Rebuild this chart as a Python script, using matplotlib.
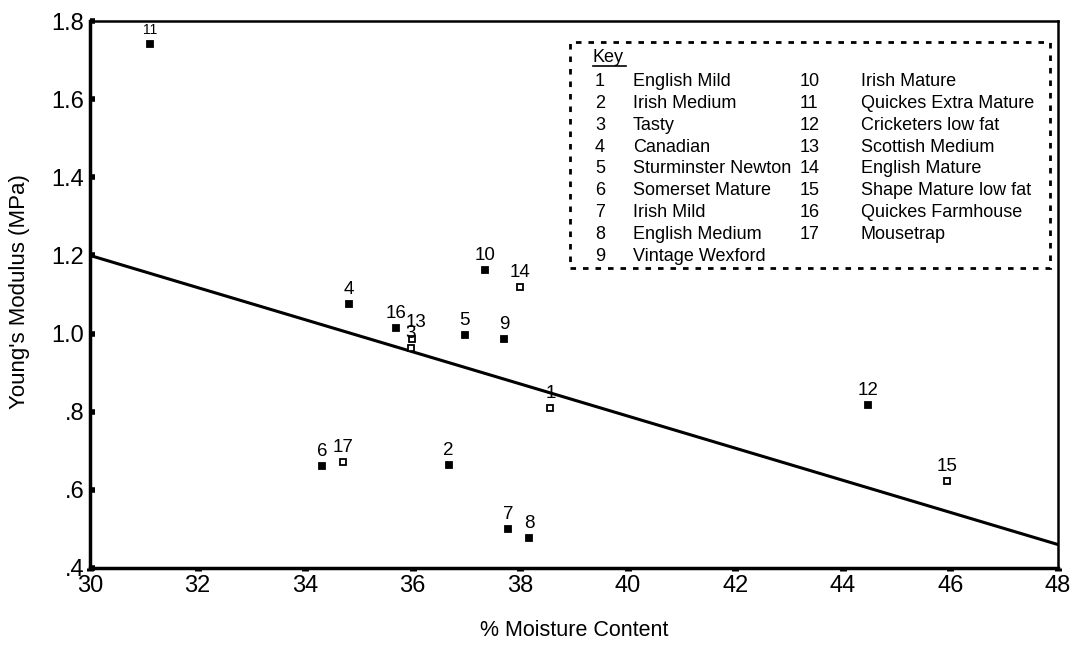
import matplotlib
matplotlib.use("Agg")
import matplotlib.pyplot as plt

plt.rcParams['font.family'] = ['Liberation Sans', 'DejaVu Sans']

# cheese number, moisture %, Young's modulus (MPa)
ids = [1, 2, 3, 4, 5, 6, 7, 8, 9, 10, 11, 12, 13, 14, 15, 16, 17]
moisture = [38.56, 36.67, 35.96, 34.81, 36.97, 34.32, 37.77, 38.17, 37.70,
            37.34, 31.12, 44.47, 35.99, 37.99, 45.94, 35.69, 34.71]
modulus = [0.810, 0.664, 0.964, 1.076, 0.996, 0.662, 0.500, 0.478, 0.987,
           1.163, 1.741, 0.818, 0.986, 1.119, 0.623, 1.015, 0.672]
hollow = [1, 3, 13, 14, 15, 17]

names = ["English Mild", "Irish Medium", "Tasty", "Canadian", "Sturminster Newton",
         "Somerset Mature", "Irish Mild", "English Medium", "Vintage Wexford",
         "Irish Mature", "Quickes Extra Mature", "Cricketers low fat",
         "Scottish Medium", "English Mature", "Shape Mature low fat",
         "Quickes Farmhouse", "Mousetrap"]

# regression line
fit_x = [30, 48]
fit_y = [1.20, 0.46]

xticks = [30, 32, 34, 36, 38, 40, 42, 44, 46, 48]
yticks = [0.4, 0.6, 0.8, 1.0, 1.2, 1.4, 1.6, 1.8]
ytick_labels = [".4", ".6", ".8", "1.0", "1.2", "1.4", "1.6", "1.8"]

W, H = 1078, 654
fig = plt.figure(figsize=(W / 100, H / 100), dpi=100)
ax = fig.add_axes([90 / W, 1 - 568 / H, (1058 - 90) / W, (568 - 21) / H])

ax.plot(fit_x, fit_y, color='black', lw=2.2, zorder=2)

for i, x, y in zip(ids, moisture, modulus):
    face = 'white' if i in hollow else 'black'
    ax.plot(x, y, marker='s', ms=3.8, mfc=face, mec='black', mew=1.3,
            ls='none', zorder=3)

# label offsets (points) for crowded labels
offsets = {13: (3, 8.5)}
for i, x, y in zip(ids, moisture, modulus):
    dx, dy = offsets.get(i, (0, 7))
    size = 10 if i == 11 else 13.5
    ax.annotate(str(i), (x, y), xytext=(dx, dy), textcoords='offset points',
                ha='center', va='baseline', fontsize=size, zorder=4)

ax.set_xlim(30, 48)
ax.set_ylim(0.4, 1.8)
ax.set_xticks(xticks)
ax.set_yticks(yticks)
ax.set_yticklabels(ytick_labels)
ax.tick_params(axis='x', direction='out', length=2.5, width=5, labelsize=17, pad=2.5)
ax.tick_params(axis='y', direction='in', length=3.5, width=4, labelsize=17, pad=4)

for side in ['left', 'bottom']:
    ax.spines[side].set_linewidth(2.5)
for side in ['top', 'right']:
    ax.spines[side].set_linewidth(1.8)

fig.text(574 / W, 1 - 630 / H, "% Moisture Content", ha='center', va='center', fontsize=15.5)
fig.text(20 / W, 1 - 292 / H, "Young's Modulus (MPa)", ha='center', va='center',
         fontsize=16, rotation=90)

# key box
box = plt.Rectangle((570 / W, 1 - 268 / H), (1050 - 570) / W, (268 - 42) / H,
                    transform=fig.transFigure, fill=False, ec='black', lw=2,
                    ls=(0, (2, 2.5)), zorder=5)
fig.add_artist(box)
fig.text(593 / W, 1 - 57 / H, "Key", ha='left', va='center', fontsize=13)
fig.add_artist(plt.Line2D([593 / W, 626 / W], [1 - 66 / H, 1 - 66 / H],
                          transform=fig.transFigure, color='black', lw=1.2))
row0, step = 81.3, 21.9
for k, (i, name) in enumerate(zip(ids, names)):
    col = k // 9
    r = k % 9
    yy = 1 - (row0 + r * step) / H
    if col == 0:
        fig.text(600 / W, yy, str(i), ha='center', va='center', fontsize=13)
        fig.text(633 / W, yy, name, ha='left', va='center', fontsize=13)
    else:
        fig.text(800 / W, yy, str(i), ha='left', va='center', fontsize=13)
        fig.text(861 / W, yy, name, ha='left', va='center', fontsize=13)

fig.savefig("out.png", dpi=100)
